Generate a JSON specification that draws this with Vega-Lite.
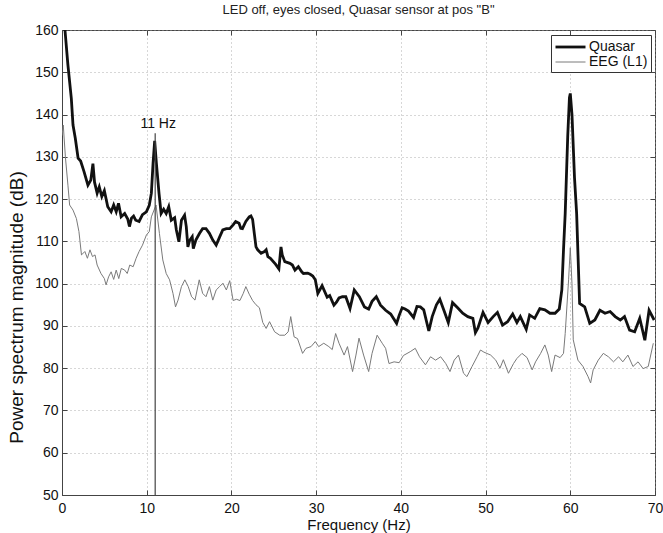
{
  "$schema": "https://vega.github.io/schema/vega-lite/v6.json",
  "width": 593,
  "height": 465,
  "autosize": {"type": "none"},
  "padding": {"left": 62, "top": 30, "right": 8, "bottom": 38},
  "background": "white",
  "title": {"text": "LED off, eyes closed, Quasar sensor at pos \"B\"", "font": "Liberation Sans", "fontSize": 13, "fontWeight": "normal", "color": "#222", "offset": 6, "anchor": "middle"},
  "config": {
    "view": {"stroke": "#444", "strokeWidth": 1},
    "font": "Liberation Sans",
    "axis": {"labelFont": "Liberation Sans", "titleFont": "Liberation Sans", "labelColor": "#111", "titleColor": "#111", "labelFontSize": 14, "titleFontSize": 15, "titleFontWeight": "normal", "domainColor": "#444", "tickColor": "#444", "gridColor": "#999", "gridDash": [1, 3], "gridWidth": 0.8, "gridOpacity": 1}
  },
  "datasets": {
    "spec": [
      {"f":0.1,"v":172,"s":"Quasar"},{"f":0.35,"v":160,"s":"Quasar"},{"f":0.7,"v":151.7,"s":"Quasar"},{"f":1.1,"v":143.8,"s":"Quasar"},{"f":1.3,"v":137.5,"s":"Quasar"},{"f":1.57,"v":134.4,"s":"Quasar"},{"f":1.9,"v":129.7,"s":"Quasar"},{"f":2.2,"v":129,"s":"Quasar"},{"f":2.6,"v":126.5,"s":"Quasar"},{"f":3.06,"v":123.3,"s":"Quasar"},{"f":3.4,"v":124.5,"s":"Quasar"},{"f":3.65,"v":128.4,"s":"Quasar"},{"f":3.84,"v":124,"s":"Quasar"},{"f":4.15,"v":121.4,"s":"Quasar"},{"f":4.4,"v":122.9,"s":"Quasar"},{"f":4.7,"v":120.6,"s":"Quasar"},{"f":5.0,"v":122,"s":"Quasar"},{"f":5.4,"v":118.2,"s":"Quasar"},{"f":5.8,"v":117,"s":"Quasar"},{"f":6.1,"v":118.6,"s":"Quasar"},{"f":6.4,"v":117,"s":"Quasar"},{"f":6.67,"v":119,"s":"Quasar"},{"f":6.98,"v":115.8,"s":"Quasar"},{"f":7.4,"v":116.6,"s":"Quasar"},{"f":7.76,"v":115.3,"s":"Quasar"},{"f":7.96,"v":113.5,"s":"Quasar"},{"f":8.2,"v":115.5,"s":"Quasar"},{"f":8.45,"v":116,"s":"Quasar"},{"f":8.7,"v":115,"s":"Quasar"},{"f":9.1,"v":114.7,"s":"Quasar"},{"f":9.5,"v":116.3,"s":"Quasar"},{"f":9.96,"v":117,"s":"Quasar"},{"f":10.3,"v":118.5,"s":"Quasar"},{"f":10.55,"v":121.4,"s":"Quasar"},{"f":10.75,"v":128.5,"s":"Quasar"},{"f":10.94,"v":133.8,"s":"Quasar"},{"f":11.14,"v":128.5,"s":"Quasar"},{"f":11.45,"v":121.4,"s":"Quasar"},{"f":11.7,"v":116.6,"s":"Quasar"},{"f":12.0,"v":117.6,"s":"Quasar"},{"f":12.3,"v":116.6,"s":"Quasar"},{"f":12.6,"v":118.2,"s":"Quasar"},{"f":12.9,"v":115,"s":"Quasar"},{"f":13.3,"v":115.6,"s":"Quasar"},{"f":13.5,"v":112.7,"s":"Quasar"},{"f":13.8,"v":109.9,"s":"Quasar"},{"f":14.1,"v":115,"s":"Quasar"},{"f":14.47,"v":116.2,"s":"Quasar"},{"f":14.67,"v":113.5,"s":"Quasar"},{"f":14.86,"v":108.7,"s":"Quasar"},{"f":15.06,"v":110.2,"s":"Quasar"},{"f":15.37,"v":111.1,"s":"Quasar"},{"f":15.5,"v":108.3,"s":"Quasar"},{"f":15.8,"v":110.3,"s":"Quasar"},{"f":16.24,"v":111.9,"s":"Quasar"},{"f":16.6,"v":113,"s":"Quasar"},{"f":17.0,"v":113,"s":"Quasar"},{"f":17.4,"v":111.9,"s":"Quasar"},{"f":17.8,"v":110.3,"s":"Quasar"},{"f":18.2,"v":109.1,"s":"Quasar"},{"f":18.6,"v":111,"s":"Quasar"},{"f":18.98,"v":112.7,"s":"Quasar"},{"f":19.4,"v":113,"s":"Quasar"},{"f":19.8,"v":113,"s":"Quasar"},{"f":20.2,"v":113.9,"s":"Quasar"},{"f":20.5,"v":114.7,"s":"Quasar"},{"f":20.9,"v":114.3,"s":"Quasar"},{"f":21.1,"v":113.1,"s":"Quasar"},{"f":21.3,"v":113,"s":"Quasar"},{"f":21.7,"v":114.7,"s":"Quasar"},{"f":22.1,"v":115.8,"s":"Quasar"},{"f":22.3,"v":116,"s":"Quasar"},{"f":22.5,"v":115.2,"s":"Quasar"},{"f":22.7,"v":111.9,"s":"Quasar"},{"f":22.9,"v":108.7,"s":"Quasar"},{"f":23.1,"v":108,"s":"Quasar"},{"f":23.5,"v":107.2,"s":"Quasar"},{"f":23.9,"v":107.6,"s":"Quasar"},{"f":24.1,"v":108,"s":"Quasar"},{"f":24.3,"v":106.4,"s":"Quasar"},{"f":24.6,"v":106,"s":"Quasar"},{"f":25.2,"v":104.6,"s":"Quasar"},{"f":25.6,"v":103.5,"s":"Quasar"},{"f":25.85,"v":108.7,"s":"Quasar"},{"f":26.0,"v":106.8,"s":"Quasar"},{"f":26.3,"v":105.2,"s":"Quasar"},{"f":26.9,"v":104.8,"s":"Quasar"},{"f":27.2,"v":104.4,"s":"Quasar"},{"f":27.5,"v":103.2,"s":"Quasar"},{"f":27.9,"v":104,"s":"Quasar"},{"f":28.3,"v":102.8,"s":"Quasar"},{"f":28.5,"v":102.4,"s":"Quasar"},{"f":29.0,"v":102.5,"s":"Quasar"},{"f":29.3,"v":102.2,"s":"Quasar"},{"f":29.6,"v":101.8,"s":"Quasar"},{"f":29.9,"v":100.9,"s":"Quasar"},{"f":30.2,"v":97.7,"s":"Quasar"},{"f":30.7,"v":99.5,"s":"Quasar"},{"f":31.3,"v":96.8,"s":"Quasar"},{"f":31.6,"v":97.2,"s":"Quasar"},{"f":31.9,"v":95.8,"s":"Quasar"},{"f":32.1,"v":94.9,"s":"Quasar"},{"f":32.4,"v":95.6,"s":"Quasar"},{"f":32.7,"v":96.6,"s":"Quasar"},{"f":33.1,"v":96.9,"s":"Quasar"},{"f":33.5,"v":96.9,"s":"Quasar"},{"f":34.0,"v":94.1,"s":"Quasar"},{"f":34.5,"v":98.5,"s":"Quasar"},{"f":35.1,"v":96.9,"s":"Quasar"},{"f":35.7,"v":94.5,"s":"Quasar"},{"f":36.2,"v":94,"s":"Quasar"},{"f":36.6,"v":95.8,"s":"Quasar"},{"f":37.1,"v":96.9,"s":"Quasar"},{"f":37.6,"v":94.9,"s":"Quasar"},{"f":38.2,"v":93.7,"s":"Quasar"},{"f":38.8,"v":92.8,"s":"Quasar"},{"f":39.5,"v":90.6,"s":"Quasar"},{"f":39.8,"v":92.5,"s":"Quasar"},{"f":40.15,"v":94.3,"s":"Quasar"},{"f":40.5,"v":94,"s":"Quasar"},{"f":40.9,"v":93.5,"s":"Quasar"},{"f":41.5,"v":92,"s":"Quasar"},{"f":41.9,"v":94.6,"s":"Quasar"},{"f":42.3,"v":94.5,"s":"Quasar"},{"f":42.7,"v":93.8,"s":"Quasar"},{"f":43.3,"v":88.8,"s":"Quasar"},{"f":43.7,"v":92.2,"s":"Quasar"},{"f":44.2,"v":95,"s":"Quasar"},{"f":44.6,"v":96.3,"s":"Quasar"},{"f":45.1,"v":93.6,"s":"Quasar"},{"f":45.6,"v":90.8,"s":"Quasar"},{"f":46.1,"v":95.5,"s":"Quasar"},{"f":46.7,"v":94.3,"s":"Quasar"},{"f":47.3,"v":93,"s":"Quasar"},{"f":47.9,"v":92.2,"s":"Quasar"},{"f":48.5,"v":91.8,"s":"Quasar"},{"f":48.8,"v":88.4,"s":"Quasar"},{"f":49.1,"v":89.5,"s":"Quasar"},{"f":49.7,"v":93.2,"s":"Quasar"},{"f":50.3,"v":90.8,"s":"Quasar"},{"f":50.9,"v":92.2,"s":"Quasar"},{"f":51.4,"v":93.2,"s":"Quasar"},{"f":52.0,"v":90.2,"s":"Quasar"},{"f":52.6,"v":91,"s":"Quasar"},{"f":53.2,"v":92.8,"s":"Quasar"},{"f":53.7,"v":90.8,"s":"Quasar"},{"f":54.1,"v":92.2,"s":"Quasar"},{"f":54.8,"v":89.2,"s":"Quasar"},{"f":55.2,"v":92.6,"s":"Quasar"},{"f":55.8,"v":91.8,"s":"Quasar"},{"f":56.4,"v":94.1,"s":"Quasar"},{"f":57.0,"v":93.8,"s":"Quasar"},{"f":57.6,"v":93,"s":"Quasar"},{"f":58.2,"v":93,"s":"Quasar"},{"f":58.7,"v":94,"s":"Quasar"},{"f":59.0,"v":98.5,"s":"Quasar"},{"f":59.2,"v":108,"s":"Quasar"},{"f":59.4,"v":116.6,"s":"Quasar"},{"f":59.7,"v":135,"s":"Quasar"},{"f":59.9,"v":144,"s":"Quasar"},{"f":60.0,"v":145,"s":"Quasar"},{"f":60.2,"v":140,"s":"Quasar"},{"f":60.5,"v":125,"s":"Quasar"},{"f":60.75,"v":116.6,"s":"Quasar"},{"f":61.1,"v":95.3,"s":"Quasar"},{"f":61.7,"v":94.5,"s":"Quasar"},{"f":62.3,"v":90.6,"s":"Quasar"},{"f":62.9,"v":91.4,"s":"Quasar"},{"f":63.5,"v":93.7,"s":"Quasar"},{"f":64.1,"v":93,"s":"Quasar"},{"f":64.7,"v":93.4,"s":"Quasar"},{"f":65.3,"v":92.2,"s":"Quasar"},{"f":65.9,"v":91.4,"s":"Quasar"},{"f":66.4,"v":92.2,"s":"Quasar"},{"f":67.0,"v":89,"s":"Quasar"},{"f":67.6,"v":88.6,"s":"Quasar"},{"f":68.2,"v":91.8,"s":"Quasar"},{"f":68.8,"v":86.6,"s":"Quasar"},{"f":69.3,"v":93.7,"s":"Quasar"},{"f":69.9,"v":91.4,"s":"Quasar"},
      {"f":0.0,"v":135,"s":"EEG (L1)"},{"f":0.15,"v":137.5,"s":"EEG (L1)"},{"f":0.4,"v":130,"s":"EEG (L1)"},{"f":0.7,"v":123.3,"s":"EEG (L1)"},{"f":0.9,"v":118.6,"s":"EEG (L1)"},{"f":1.3,"v":117.4,"s":"EEG (L1)"},{"f":1.7,"v":115.4,"s":"EEG (L1)"},{"f":2.0,"v":112.3,"s":"EEG (L1)"},{"f":2.3,"v":106.8,"s":"EEG (L1)"},{"f":2.7,"v":107.6,"s":"EEG (L1)"},{"f":3.0,"v":106,"s":"EEG (L1)"},{"f":3.3,"v":108,"s":"EEG (L1)"},{"f":3.6,"v":106.4,"s":"EEG (L1)"},{"f":3.9,"v":106.8,"s":"EEG (L1)"},{"f":4.15,"v":104.4,"s":"EEG (L1)"},{"f":4.6,"v":102.4,"s":"EEG (L1)"},{"f":5.0,"v":101.2,"s":"EEG (L1)"},{"f":5.2,"v":99.7,"s":"EEG (L1)"},{"f":5.5,"v":101.6,"s":"EEG (L1)"},{"f":5.8,"v":102.8,"s":"EEG (L1)"},{"f":6.1,"v":101,"s":"EEG (L1)"},{"f":6.4,"v":103.2,"s":"EEG (L1)"},{"f":6.7,"v":101.2,"s":"EEG (L1)"},{"f":7.0,"v":103.6,"s":"EEG (L1)"},{"f":7.4,"v":103.2,"s":"EEG (L1)"},{"f":7.7,"v":102.4,"s":"EEG (L1)"},{"f":8.0,"v":104.4,"s":"EEG (L1)"},{"f":8.4,"v":104,"s":"EEG (L1)"},{"f":8.75,"v":106,"s":"EEG (L1)"},{"f":9.1,"v":107.6,"s":"EEG (L1)"},{"f":9.5,"v":109.1,"s":"EEG (L1)"},{"f":9.96,"v":111.5,"s":"EEG (L1)"},{"f":10.3,"v":112.3,"s":"EEG (L1)"},{"f":10.55,"v":115.8,"s":"EEG (L1)"},{"f":11.1,"v":118.6,"s":"EEG (L1)"},{"f":11.5,"v":111.9,"s":"EEG (L1)"},{"f":11.9,"v":105.6,"s":"EEG (L1)"},{"f":12.3,"v":102.4,"s":"EEG (L1)"},{"f":12.7,"v":100.9,"s":"EEG (L1)"},{"f":13.1,"v":97.7,"s":"EEG (L1)"},{"f":13.4,"v":94.5,"s":"EEG (L1)"},{"f":13.7,"v":96.1,"s":"EEG (L1)"},{"f":14.1,"v":99.3,"s":"EEG (L1)"},{"f":14.5,"v":100.9,"s":"EEG (L1)"},{"f":14.9,"v":99.3,"s":"EEG (L1)"},{"f":15.3,"v":96.9,"s":"EEG (L1)"},{"f":15.7,"v":96.1,"s":"EEG (L1)"},{"f":16.2,"v":100.9,"s":"EEG (L1)"},{"f":16.6,"v":97.7,"s":"EEG (L1)"},{"f":17.0,"v":96.9,"s":"EEG (L1)"},{"f":17.4,"v":99.3,"s":"EEG (L1)"},{"f":17.8,"v":96.1,"s":"EEG (L1)"},{"f":18.2,"v":98.5,"s":"EEG (L1)"},{"f":18.6,"v":99.3,"s":"EEG (L1)"},{"f":19.0,"v":100.1,"s":"EEG (L1)"},{"f":19.4,"v":98.5,"s":"EEG (L1)"},{"f":19.8,"v":100.7,"s":"EEG (L1)"},{"f":20.2,"v":96,"s":"EEG (L1)"},{"f":20.6,"v":96.3,"s":"EEG (L1)"},{"f":21.0,"v":96,"s":"EEG (L1)"},{"f":21.4,"v":97.7,"s":"EEG (L1)"},{"f":21.7,"v":99.3,"s":"EEG (L1)"},{"f":22.1,"v":97.5,"s":"EEG (L1)"},{"f":22.5,"v":96,"s":"EEG (L1)"},{"f":22.9,"v":95,"s":"EEG (L1)"},{"f":23.3,"v":94.3,"s":"EEG (L1)"},{"f":23.7,"v":90.8,"s":"EEG (L1)"},{"f":24.1,"v":89.4,"s":"EEG (L1)"},{"f":24.5,"v":91,"s":"EEG (L1)"},{"f":25.1,"v":88.6,"s":"EEG (L1)"},{"f":25.7,"v":87.8,"s":"EEG (L1)"},{"f":26.3,"v":87.8,"s":"EEG (L1)"},{"f":26.7,"v":88.6,"s":"EEG (L1)"},{"f":27.0,"v":92.2,"s":"EEG (L1)"},{"f":27.4,"v":87.4,"s":"EEG (L1)"},{"f":27.8,"v":87,"s":"EEG (L1)"},{"f":28.4,"v":83.5,"s":"EEG (L1)"},{"f":28.8,"v":84.7,"s":"EEG (L1)"},{"f":29.4,"v":85.1,"s":"EEG (L1)"},{"f":29.9,"v":86.3,"s":"EEG (L1)"},{"f":30.3,"v":85.1,"s":"EEG (L1)"},{"f":30.9,"v":85.9,"s":"EEG (L1)"},{"f":31.5,"v":85.1,"s":"EEG (L1)"},{"f":31.9,"v":84.4,"s":"EEG (L1)"},{"f":32.3,"v":88.2,"s":"EEG (L1)"},{"f":32.7,"v":85.9,"s":"EEG (L1)"},{"f":33.3,"v":83.1,"s":"EEG (L1)"},{"f":33.7,"v":85.1,"s":"EEG (L1)"},{"f":34.3,"v":79.2,"s":"EEG (L1)"},{"f":34.7,"v":83.1,"s":"EEG (L1)"},{"f":35.06,"v":87.1,"s":"EEG (L1)"},{"f":35.6,"v":83.1,"s":"EEG (L1)"},{"f":36.2,"v":79.2,"s":"EEG (L1)"},{"f":36.6,"v":83.5,"s":"EEG (L1)"},{"f":37.2,"v":87.8,"s":"EEG (L1)"},{"f":37.8,"v":85.9,"s":"EEG (L1)"},{"f":38.2,"v":84.7,"s":"EEG (L1)"},{"f":38.6,"v":81.1,"s":"EEG (L1)"},{"f":39.2,"v":81.5,"s":"EEG (L1)"},{"f":39.8,"v":81.3,"s":"EEG (L1)"},{"f":40.3,"v":83,"s":"EEG (L1)"},{"f":41.1,"v":83.9,"s":"EEG (L1)"},{"f":41.7,"v":84.7,"s":"EEG (L1)"},{"f":42.2,"v":82.7,"s":"EEG (L1)"},{"f":42.9,"v":80.8,"s":"EEG (L1)"},{"f":43.5,"v":82.7,"s":"EEG (L1)"},{"f":44.1,"v":81.9,"s":"EEG (L1)"},{"f":44.7,"v":82.7,"s":"EEG (L1)"},{"f":45.3,"v":81.1,"s":"EEG (L1)"},{"f":45.8,"v":79.2,"s":"EEG (L1)"},{"f":46.3,"v":81.9,"s":"EEG (L1)"},{"f":46.8,"v":83.1,"s":"EEG (L1)"},{"f":47.4,"v":78.8,"s":"EEG (L1)"},{"f":47.8,"v":78,"s":"EEG (L1)"},{"f":48.4,"v":80.4,"s":"EEG (L1)"},{"f":49.0,"v":82.7,"s":"EEG (L1)"},{"f":49.4,"v":84.3,"s":"EEG (L1)"},{"f":49.8,"v":83.8,"s":"EEG (L1)"},{"f":50.6,"v":83.1,"s":"EEG (L1)"},{"f":51.2,"v":81.9,"s":"EEG (L1)"},{"f":51.7,"v":80,"s":"EEG (L1)"},{"f":52.1,"v":82,"s":"EEG (L1)"},{"f":52.7,"v":78.8,"s":"EEG (L1)"},{"f":53.3,"v":81.1,"s":"EEG (L1)"},{"f":53.7,"v":82.3,"s":"EEG (L1)"},{"f":54.3,"v":83.5,"s":"EEG (L1)"},{"f":54.9,"v":82.5,"s":"EEG (L1)"},{"f":55.5,"v":79.6,"s":"EEG (L1)"},{"f":55.9,"v":81.5,"s":"EEG (L1)"},{"f":56.5,"v":83.5,"s":"EEG (L1)"},{"f":57.0,"v":85.5,"s":"EEG (L1)"},{"f":57.4,"v":83.1,"s":"EEG (L1)"},{"f":57.8,"v":79.2,"s":"EEG (L1)"},{"f":58.2,"v":83.1,"s":"EEG (L1)"},{"f":58.8,"v":82.5,"s":"EEG (L1)"},{"f":59.2,"v":83.5,"s":"EEG (L1)"},{"f":59.4,"v":88.2,"s":"EEG (L1)"},{"f":59.8,"v":100.9,"s":"EEG (L1)"},{"f":60.0,"v":108.5,"s":"EEG (L1)"},{"f":60.2,"v":100,"s":"EEG (L1)"},{"f":60.35,"v":86.7,"s":"EEG (L1)"},{"f":60.9,"v":81.9,"s":"EEG (L1)"},{"f":61.5,"v":80.4,"s":"EEG (L1)"},{"f":62.1,"v":78,"s":"EEG (L1)"},{"f":62.4,"v":76.5,"s":"EEG (L1)"},{"f":62.7,"v":79.6,"s":"EEG (L1)"},{"f":63.3,"v":81.9,"s":"EEG (L1)"},{"f":63.9,"v":83.5,"s":"EEG (L1)"},{"f":64.5,"v":82.7,"s":"EEG (L1)"},{"f":65.1,"v":81.5,"s":"EEG (L1)"},{"f":65.7,"v":82.7,"s":"EEG (L1)"},{"f":66.2,"v":81.5,"s":"EEG (L1)"},{"f":66.8,"v":83.1,"s":"EEG (L1)"},{"f":67.4,"v":80.4,"s":"EEG (L1)"},{"f":68.0,"v":81.5,"s":"EEG (L1)"},{"f":68.6,"v":79.9,"s":"EEG (L1)"},{"f":69.2,"v":80.4,"s":"EEG (L1)"},{"f":69.8,"v":85.9,"s":"EEG (L1)"}
    ],
    "marker": [{"f": 11, "top": 135.6, "bottom": 50}],
    "note": [{"f": 11.35, "v": 136.9, "label": "11 Hz"}]
  },
  "resolve": {"axis": {"x": "independent", "y": "independent"}},
  "layer": [
    {
      "data": {"name": "spec"},
      "mark": {"type": "line", "clip": true, "interpolate": "linear"},
      "encoding": {
        "x": {"field": "f", "type": "quantitative", "scale": {"domain": [0, 70], "nice": false, "zero": false},
              "axis": {"title": "Frequency (Hz)", "values": [0,10,20,30,40,50,60,70], "tickSize": -5, "labelPadding": 11, "titlePadding": 2, "grid": true, "labelFlush": false}},
        "y": {"field": "v", "type": "quantitative", "scale": {"domain": [50, 160], "nice": false, "zero": false},
              "axis": {"title": "Power spectrum magnitude (dB)", "values": [50,60,70,80,90,100,110,120,130,140,150,160], "tickSize": -5, "labelPadding": 9, "titlePadding": 8, "titleFontSize": 19, "titleY": 277, "grid": true}},
        "color": {"field": "s", "type": "nominal", "scale": {"domain": ["Quasar", "EEG (L1)"], "range": ["#111111", "#7a7a7a"]},
                  "legend": {"title": null, "orient": "none", "legendX": 489, "legendY": 5, "fillColor": "white", "strokeColor": "#333", "padding": 3, "symbolType": "M-1,0H3", "symbolSize": 225, "labelFontSize": 14, "labelFont": "Liberation Sans", "labelColor": "#111", "rowPadding": 0, "labelOffset": 17}},
        "strokeWidth": {"field": "s", "type": "nominal", "scale": {"domain": ["Quasar", "EEG (L1)"], "range": [2.8, 1]},
                  "legend": {"title": null, "orient": "none", "legendX": 489, "legendY": 5, "fillColor": "white", "strokeColor": "#333", "padding": 3, "symbolType": "M-1,0H3", "symbolSize": 225, "labelFontSize": 14, "labelFont": "Liberation Sans", "labelColor": "#111", "rowPadding": 0, "labelOffset": 17}}
      }
    },
    {
      "data": {"name": "marker"},
      "mark": {"type": "rule", "color": "#444", "strokeWidth": 1.2},
      "encoding": {
        "x": {"field": "f", "type": "quantitative", "scale": {"domain": [0, 70]},
              "axis": {"orient": "top", "title": null, "labels": false, "grid": false, "domain": false, "tickSize": -5, "values": [0,10,20,30,40,50,60,70]}},
        "y": {"field": "top", "type": "quantitative", "scale": {"domain": [50, 160]},
              "axis": {"orient": "right", "title": null, "labels": false, "grid": false, "domain": false, "tickSize": -5, "values": [50,60,70,80,90,100,110,120,130,140,150,160]}},
        "y2": {"field": "bottom"}
      }
    },
    {
      "data": {"name": "note"},
      "mark": {"type": "text", "font": "Liberation Sans", "fontSize": 14, "color": "#111", "baseline": "alphabetic", "align": "center"},
      "encoding": {
        "x": {"field": "f", "type": "quantitative", "axis": null},
        "y": {"field": "v", "type": "quantitative", "axis": null},
        "text": {"field": "label"}
      }
    }
  ]
}
